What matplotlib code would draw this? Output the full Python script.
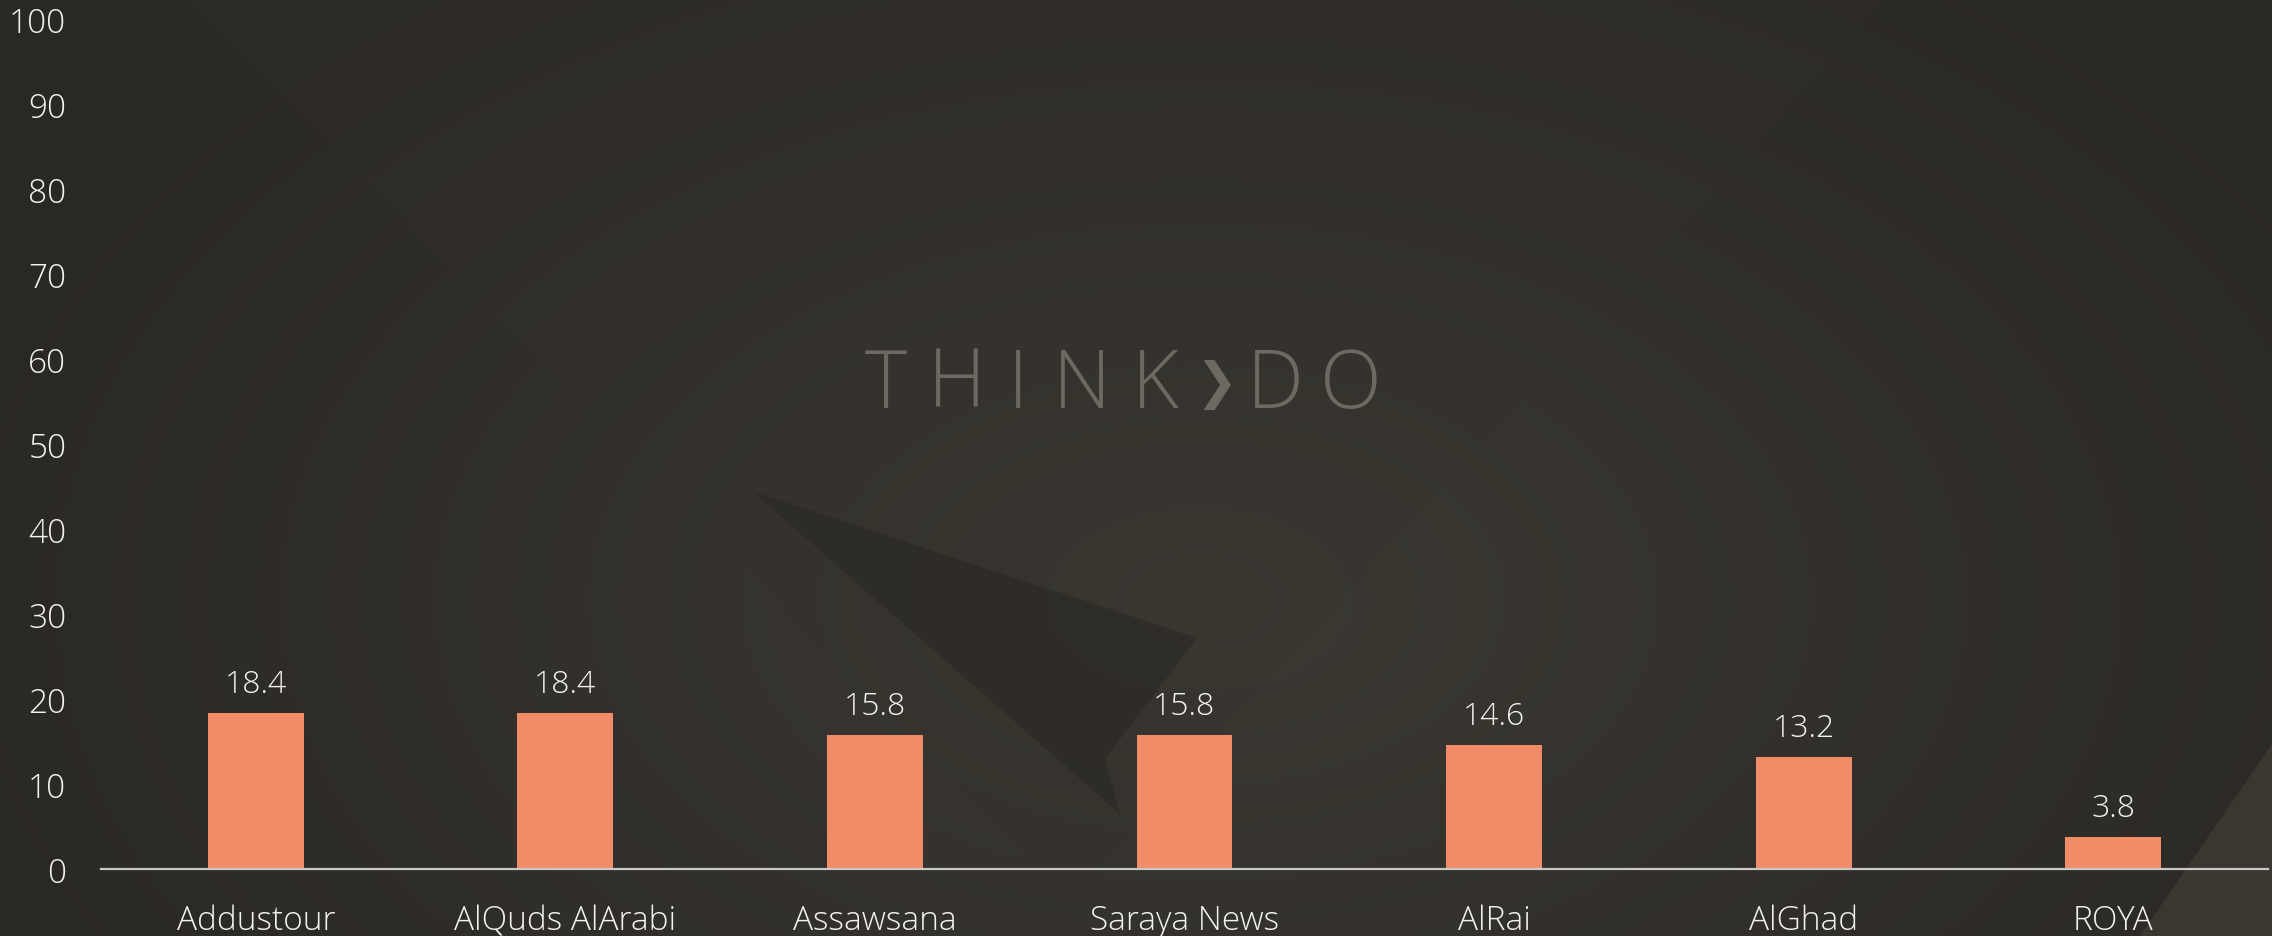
import numpy as np
import matplotlib.pyplot as plt
from matplotlib.patches import Polygon

# data
outlets = ['Addustour', 'AlQuds AlArabi', 'Assawsana', 'Saraya News',
           'AlRai', 'AlGhad', 'ROYA']
share = [18.4, 18.4, 15.8, 15.8, 14.6, 13.2, 3.8]
yticks = [0, 10, 20, 30, 40, 50, 60, 70, 80, 90, 100]

W, H = 2272, 937
fig = plt.figure(figsize=(W / 100, H / 100), dpi=100)
fig.patch.set_facecolor('#2c2a26')

# background: soft radial glow plus a few flat facets, drawn in pixel coords
bg = fig.add_axes([0, 0, 1, 1], zorder=-10)
bg.set_xlim(0, W)
bg.set_ylim(H, 0)
bg.axis('off')
yy, xx = np.mgrid[0:H, 0:W]
d = np.sqrt(((xx - 1200) / 1300.0) ** 2 + ((yy - 600) / 800.0) ** 2)
glow = np.clip(1 - d, 0, 1)
base = np.array([42, 40, 36]) / 255.0
lite = np.array([60, 57, 51]) / 255.0
img = base[None, None, :] + glow[..., None] * (lite - base)[None, None, :]
bg.imshow(img, extent=[0, W, H, 0], aspect='auto', interpolation='bilinear')

facets = [
    ([(188, 0), (1884, 0), (1070, 900)], '#35322d', 0.3),
    ([(752, 492), (1197, 639), (1105, 760), (1120, 815)], '#2a2824', 0.6),
    ([(2272, 745), (2272, 937), (2140, 937)], '#3a3731', 1.0),
]
for pts, col, a in facets:
    bg.add_patch(Polygon(pts, closed=True, facecolor=col, edgecolor='none', alpha=a))

# watermark
wm_x = [886, 957, 1018, 1082, 1155, 1216, 1275, 1351]
wm_t = ['T', 'H', 'I', 'N', 'K', '\u276F', 'D', 'O']
for x, t in zip(wm_x, wm_t):
    if t == '\u276F':
        bg.text(x, 385, t, ha='center', va='center', fontsize=36,
                color='#6e6862', family='DejaVu Sans', fontweight='bold')
    else:
        bg.text(x, 387, t, ha='center', va='center', fontsize=58,
                color='#6e6862', family='Open Sans', fontweight='light')

# chart
ax = fig.add_axes([101 / W, 67 / H, 2167 / W, 850 / H])
ax.patch.set_alpha(0)
x = np.arange(len(outlets))
ax.bar(x, share, width=0.31, color='#f28c68', zorder=3)

for xi, v in zip(x, share):
    ax.annotate(f'{v}', (xi, v), xytext=(0, 9), textcoords='offset points',
                ha='center', va='bottom', fontsize=23, color='#f2f2f2',
                family='Open Sans', fontweight='light')

ax.set_xlim(-0.5, len(outlets) - 0.5)
ax.set_ylim(0, 100)
ax.set_xticks(x)
ax.set_xticklabels(outlets, fontsize=24, color='#f2f2f2',
                   family='Open Sans', fontweight='light')
ax.set_yticks(yticks)
ax.set_yticklabels([str(t) for t in yticks], fontsize=24, color='#f2f2f2',
                   family='Open Sans', fontweight='light')
ax.tick_params(axis='both', length=0)
ax.tick_params(axis='y', pad=25)
ax.tick_params(axis='x', pad=25)

for s in ['top', 'right', 'left']:
    ax.spines[s].set_visible(False)
ax.spines['bottom'].set_color('#c8c8c8')
ax.spines['bottom'].set_linewidth(1.6)
ax.spines['bottom'].set_zorder(4)

fig.savefig('out.png', dpi=100, facecolor=fig.get_facecolor())
